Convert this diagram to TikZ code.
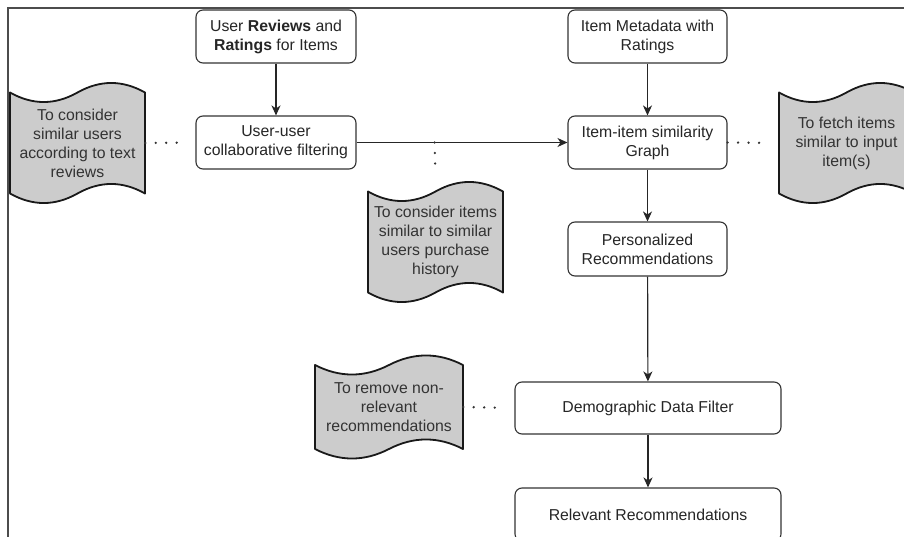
\documentclass[tikz,border=0pt]{standalone}
\usepackage{fontspec}
\setmainfont{Liberation Sans}
\usetikzlibrary{arrows.meta,calc}
\newcommand{\boxfont}{\fontsize{15.8}{19}\selectfont}
\tikzset{
  stepbox/.style={draw=black!80, line width=1.1pt, rounded corners=7pt, fill=white,
    align=center, text=black!85, font=\boxfont, inner sep=0pt},
  notetext/.style={align=center, text=black!80, font=\boxfont, inner sep=0pt},
  noteline/.style={draw=black!90, line width=1.8pt, fill=black!20, line join=round},
  flow/.style={-{Stealth[length=10pt,width=9pt,inset=3pt]}, line width=1.2pt, black!85},
  dotlink/.style={black!80, line width=2.6pt, line cap=round,
    dash pattern=on 0pt off 10.5pt, shorten >=14pt}
}
% wavy note: name, cx, cy, width, height, text
\newcommand{\notewave}[6]{%
  \pgfmathsetmacro\nwL{#2-#4/2}\pgfmathsetmacro\nwR{#2+#4/2}%
  \pgfmathsetmacro\nwT{#3-#5/2+9.5}\pgfmathsetmacro\nwB{#3+#5/2-9.5}%
  \pgfmathsetmacro\nwS{#4/6}%
  \draw[noteline] (\nwL,\nwT) .. controls +(\nwS,12.7) and +(-\nwS,12.7) .. (#2,\nwT)
    .. controls +(\nwS,-12.7) and +(-\nwS,-12.7) .. (\nwR,\nwT) -- (\nwR,\nwB)
    .. controls +(-\nwS,-12.7) and +(\nwS,-12.7) .. (#2,\nwB)
    .. controls +(-\nwS,12.7) and +(\nwS,12.7) .. (\nwL,\nwB) -- cycle;
  \node[notetext, minimum width=#4pt, minimum height=#5pt] (#1) at (#2,#3) {#6};}
\begin{document}
\begin{tikzpicture}[x=1pt,y=-1pt]
  \useasboundingbox (0,0) rectangle (904,537);
  \clip (0,0) rectangle (904,537);
  \draw[line width=1.4pt, black!70] (8,537) -- (8,8) -- (904,8);
  \node[stepbox, minimum width=160pt, minimum height=53pt] (reviews) at (276,36.5) {User \textbf{Reviews} and\\\textbf{Ratings} for Items};
  \node[stepbox, minimum width=160pt, minimum height=53pt] (useruser) at (276,142.5) {User-user\\collaborative filtering};
  \node[stepbox, minimum width=159pt, minimum height=53pt] (meta) at (647.5,36.5) {Item Metadata with\\Ratings};
  \node[stepbox, minimum width=159pt, minimum height=53pt] (itemitem) at (647.5,142.5) {Item-item similarity\\Graph};
  \node[stepbox, minimum width=159pt, minimum height=54pt] (personal) at (647.5,249) {Personalized\\Recommendations};
  \node[stepbox, minimum width=266pt, minimum height=52pt] (demo) at (648,408) {Demographic Data Filter};
  \node[stepbox, minimum width=266pt, minimum height=53pt] (relevant) at (648,514.5) {Relevant Recommendations};
  \notewave{textnote}{77.5}{143}{135}{120}{To consider\\similar users\\according to text\\reviews}
  \notewave{histnote}{435.5}{242}{135}{120}{To consider items\\similar to similar\\users purchase\\history}
  \notewave{fetchnote}{846.5}{143}{135}{120}{To fetch items\\similar to input\\item(s)}
  \notewave{filternote}{389}{407}{148}{103}{To remove non-\\relevant\\recommendations}
  \draw[flow] (reviews) -- (useruser);
  \draw[flow] (meta) -- (itemitem);
  \draw[flow] (useruser) -- (itemitem);
  \draw[flow] (itemitem) -- (personal);
  \draw[flow] (personal) -- (demo);
  \draw[flow] (demo) -- (relevant);
  \coordinate (tap) at ($(useruser.east)!0.37!(itemitem.west)$);
  \draw[dotlink] (textnote.east) -- (useruser.west);
  \draw[dotlink] (tap) -- (histnote.north);
  \draw[dotlink] (itemitem.east) -- (fetchnote.west);
  \draw[dotlink] (filternote.east) -- (demo.west);
\end{tikzpicture}
\end{document}
